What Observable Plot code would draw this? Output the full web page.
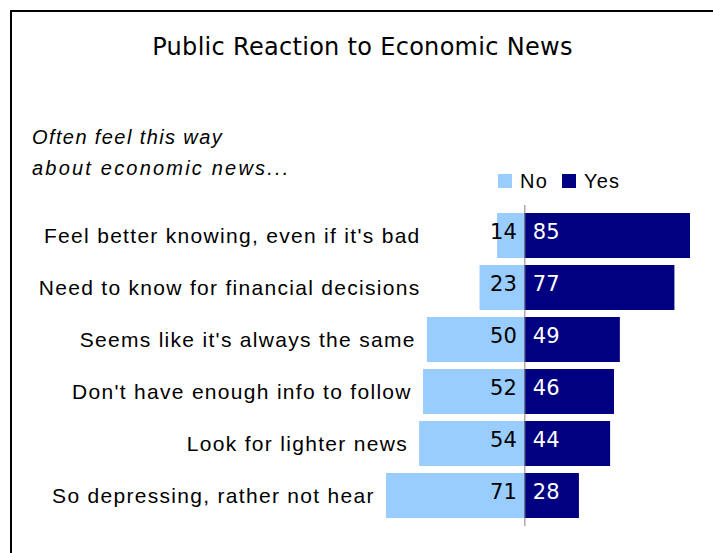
<!DOCTYPE html>
<html>
<head>
<meta charset="utf-8">
<script src="https://cdn.jsdelivr.net/npm/d3@7"></script>
<script src="https://cdn.jsdelivr.net/npm/@observablehq/plot@0.6"></script>
<style>
  html, body { margin: 0; padding: 0; width: 713px; height: 553px; overflow: hidden; background: #fff; }
  #wrap { position: relative; width: 713px; height: 553px; }
  #frame { position: absolute; left: 10px; top: 10px; width: 760px; height: 600px; border: 2px solid #000; box-sizing: border-box; }
  #title { position: absolute; left: 0; width: 725px; top: 32px; text-align: center; font-family: "DejaVu Sans", sans-serif; font-size: 24px; line-height: 30px; letter-spacing: 0.3px; color: #000; }
  #subtitle { position: absolute; left: 32px; top: 122px; font-family: "Liberation Sans", Arial, sans-serif; font-style: italic; font-size: 20px; line-height: 31px; letter-spacing: 1.4px; color: #000; }
  #subtitle .l2 { letter-spacing: 2.2px; }
  #legend { position: absolute; left: 498px; top: 170px; font-family: "Liberation Sans", Arial, sans-serif; font-size: 20px; line-height: 22px; letter-spacing: 1.2px; color: #000; display: flex; align-items: center; }
  #legend .sw { display: inline-block; width: 14px; height: 14px; margin-right: 8px; }
  #legend .item { display: flex; align-items: center; margin-right: 14px; }
  #chart { position: absolute; left: 0; top: 0; }
  #chart text.lab { letter-spacing: 1.3px; }
</style>
</head>
<body>
<div id="wrap">
  <div id="frame"></div>
  <div id="chart"></div>
  <div id="title">Public Reaction to Economic News</div>
  <div id="subtitle">Often feel this way<br><span class="l2">about economic news...</span></div>
  <div id="legend"></div>
</div>
<script>
const categories = [
  "Feel better knowing, even if it's bad",
  "Need to know for financial decisions",
  "Seems like it's always the same",
  "Don't have enough info to follow",
  "Look for lighter news",
  "So depressing, rather not hear"
];
const noValues = [14, 23, 50, 52, 54, 71];
const yesValues = [85, 77, 49, 46, 44, 28];
const seriesNames = ["No", "Yes"];
const seriesColors = ["#99CCFF", "#000080"];

const data = categories.map((c, i) => ({cat: c, no: noValues[i], yes: yesValues[i]}));

const plot = Plot.plot({
  width: 713,
  height: 553,
  marginTop: 205,
  marginBottom: 27,
  marginLeft: 386,
  marginRight: 23,
  style: {background: "transparent", fontFamily: "Liberation Sans, Arial, sans-serif", overflow: "visible"},
  x: {domain: [-71, 85], range: [386, 690], axis: null},
  y: {domain: categories, range: [207.3, 523.5], paddingInner: 0.14, paddingOuter: 0.07, axis: null},
  marks: [
    Plot.barX(data, {x1: d => -d.no, x2: 0, y: "cat", fill: seriesColors[0]}),
    Plot.barX(data, {x1: 0, x2: "yes", y: "cat", fill: seriesColors[1]}),
    Plot.ruleX([0], {stroke: "#808080", strokeWidth: 1}),
    Plot.text(data, {x: d => Math.min(-d.no - 6, -53.5), y: "cat", text: "cat", textAnchor: "end", fontSize: 21, fill: "#000", className: "lab"}),
    Plot.text(data, {x: 0, y: "cat", text: d => String(d.no), textAnchor: "end", dx: -8, dy: -4, fontSize: 21, fill: "#000", fontFamily: "DejaVu Sans"}),
    Plot.text(data, {x: 0, y: "cat", text: d => String(d.yes), textAnchor: "start", dx: 8, dy: -4, fontSize: 21, fill: "#fff", fontFamily: "DejaVu Sans"})
  ]
});
plot.querySelectorAll("g[aria-label='text']").forEach((g, i) => { if (i === 0) g.querySelectorAll("text").forEach(t => t.classList.add("lab")); });
document.getElementById("chart").appendChild(plot);

const legend = document.getElementById("legend");
seriesNames.forEach((name, i) => {
  const item = document.createElement("span");
  item.className = "item";
  const sw = document.createElement("span");
  sw.className = "sw";
  sw.style.background = seriesColors[i];
  item.appendChild(sw);
  item.appendChild(document.createTextNode(name));
  legend.appendChild(item);
});
</script>
</body>
</html>
